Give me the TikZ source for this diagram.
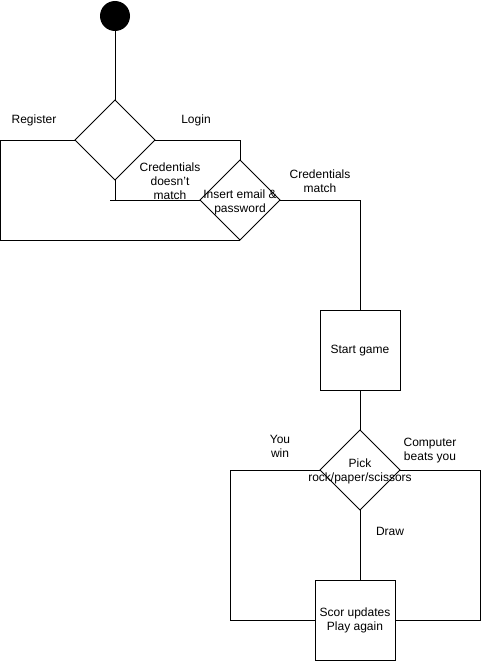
\documentclass[tikz,border=0pt]{standalone}
\usepackage{fontspec}
\setmainfont{Liberation Sans}[Ligatures=NoCommon]
\usetikzlibrary{shapes.geometric}
\begin{document}
\begin{tikzpicture}[x=1pt,y=-1pt,line width=1pt,
  every node/.style={font=\fontsize{12}{14}\selectfont},
  decision/.style={draw,diamond,minimum width=80pt,minimum height=80pt,inner sep=0pt,outer sep=0pt},
  stepbox/.style={draw,rectangle,minimum width=80pt,minimum height=80pt,inner sep=0pt,outer sep=0pt,align=center},
  lbl/.style={align=center,inner sep=0pt}]
\useasboundingbox (0,0) rectangle (482,661);

% start state
\node[circle,fill=black,minimum size=30pt,inner sep=0pt] (start) at (115,16) {};

% decisions and actions
\node[decision] (menu) at (115,140) {};
\node[decision,label={[lbl,yshift=-2pt]center:Insert email \&\\password}] (cred) at (240,200) {};
\node[stepbox,label={[lbl,yshift=-1pt]center:Start game}] (game) at (360,350) {};
\node[decision,label={[lbl,yshift=-1pt]center:Pick\\rock/paper/scissors}] (pick) at (360,470) {};
\node[stepbox] (score) at (355,620) {Scor updates\\Play again};

% connectors
\coordinate (regA) at (0.5,140);
\coordinate (regB) at (0.5,240);
\draw (start) -- (menu.north);
\draw (menu.west) -- (regA) -- (regB) -- (cred.south);
\draw (menu.east) -| (cred.north);
\coordinate (fail) at (110,200);
\draw (menu.south) -- (115,200);
\draw (fail) -- (cred.west);
\draw (cred.east) -| (game.north);
\draw (game.south) -- (pick.north);
\draw (pick.west) -- (230,470) -- (230,620) -- (score.west);
\draw (pick.east) -- (480,470) -- (480,620) -- (score.east);
\draw (pick.south) -- (score.north -| pick.south);

% branch labels
\node[lbl] (lreg) at (34,120) {Register};
\node[lbl] (llog) at (196,120) {Login};
\node[lbl] (lbad) at (170,181) {Credentials\\doesn{\char"0027}t\\match};
\node[lbl] (lok) at (320,181) {Credentials\\match};
\node[lbl] (lwin) at (280,446) {You\\win};
\node[lbl] (llose) at (430,451) {Computer\\beats you};
\node[lbl] (ldraw) at (390,531) {Draw};
\end{tikzpicture}
\end{document}
